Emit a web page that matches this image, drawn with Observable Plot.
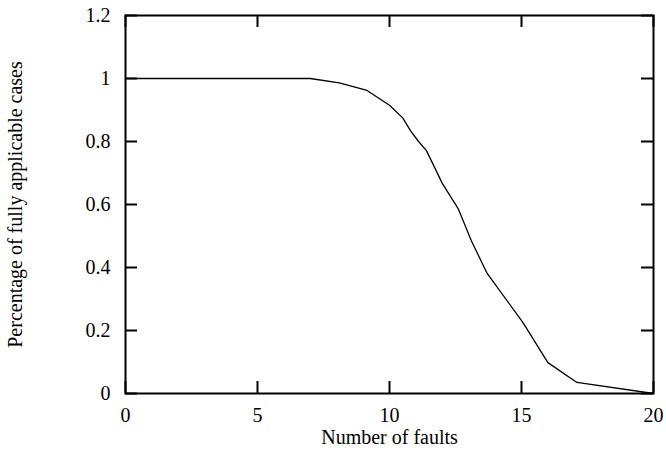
<!DOCTYPE html>
<html>
<head>
<meta charset="utf-8">
<script src="https://cdn.jsdelivr.net/npm/d3@7"></script>
<script src="https://cdn.jsdelivr.net/npm/@observablehq/plot@0.6"></script>
<style>
  html, body { margin: 0; padding: 0; background: #fff; }
  svg { display: block; }
  svg, svg text, svg g { font-family: 'Liberation Serif', 'Times New Roman', serif !important; }
</style>
</head>
<body>
<div id="chart"></div>
<script>
const faults = [0, 7, 8.1, 9.15, 10, 10.5, 10.8, 11.1, 11.4, 12, 12.6, 13.1, 13.7, 15.05, 16, 17.1, 20];
const fullyApplicable = [1, 1, 0.986, 0.962, 0.915, 0.875, 0.834, 0.8, 0.771, 0.667, 0.587, 0.485, 0.381, 0.226, 0.098, 0.035, 0];
const xTicks = [0, 5, 10, 15, 20];
const yTicks = [0, 0.2, 0.4, 0.6, 0.8, 1, 1.2];
const xLabel = "Number of faults";
const yLabel = "Percentage of fully applicable cases";

const data = faults.map((f, i) => ({f, v: fullyApplicable[i]}));

const W = 666, H = 452;
const mL = 125, mR = 13, mT = 15, mB = 59;
const pw = W - mL - mR, ph = H - mT - mB;
const tick = 12;
const font = "'Liberation Serif', 'Times New Roman', serif";

const chart = Plot.plot({
  width: W, height: H,
  marginLeft: mL, marginRight: mR, marginTop: mT, marginBottom: mB,
  style: {fontFamily: font, fontSize: "20px", color: "#000", background: "#fff"},
  x: {domain: [0, 20]},
  y: {domain: [0, 1.2]},
  marks: [
    Plot.line(data, {x: "f", y: "v", stroke: "#000", strokeWidth: 1.3}),
    // inward ticks on all four sides
    Plot.tickX(xTicks, {x: d => d, stroke: "#000", strokeWidth: 2, insetTop: ph - tick}),
    Plot.tickX(xTicks, {x: d => d, stroke: "#000", strokeWidth: 2, insetBottom: ph - tick}),
    Plot.tickY(yTicks, {y: d => d, stroke: "#000", strokeWidth: 2, insetRight: pw - tick}),
    Plot.tickY(yTicks, {y: d => d, stroke: "#000", strokeWidth: 2, insetLeft: pw - tick}),
    Plot.frame({stroke: "#000", strokeWidth: 2}),
    Plot.axisX({ticks: xTicks, tickSize: 0, tickPadding: 14, fontSize: 20, fontFamily: font,
      label: xLabel, labelAnchor: "center", labelArrow: "none", labelOffset: 50}),
    Plot.axisY({ticks: yTicks, tickSize: 0, tickPadding: 15, fontSize: 20, fontFamily: font,
      tickFormat: d => String(+d.toFixed(1)),
      label: yLabel, labelAnchor: "center", labelArrow: "none", labelOffset: 118})
  ]
});
document.getElementById("chart").append(chart);
</script>
</body>
</html>
